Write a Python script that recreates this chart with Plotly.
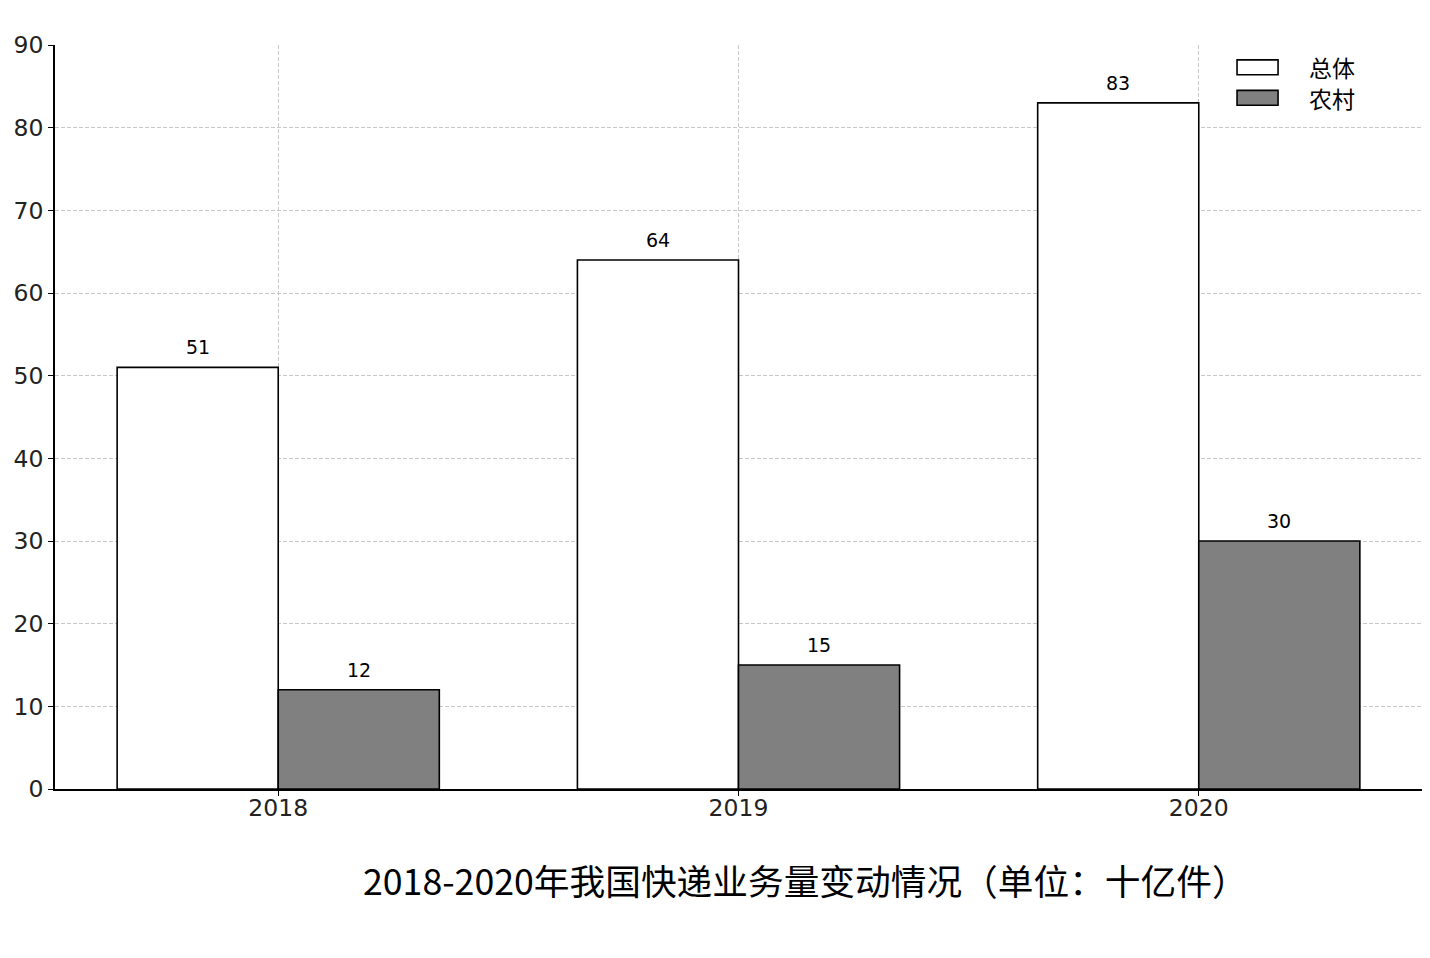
import plotly.graph_objects as go

years = ["2018", "2019", "2020"]
total = [51, 64, 83]
rural = [12, 15, 30]
series_names = ["总体", "农村"]
title_text = "2018-2020年我国快递业务量变动情况（单位：十亿件）"

xpos = list(range(len(years)))
BW = 0.35

fig = go.Figure()
fig.add_trace(go.Bar(x=xpos, y=total, name=series_names[0], marker=dict(color="white", line=dict(color="black", width=1.6)), showlegend=False))
fig.add_trace(go.Bar(x=xpos, y=rural, name=series_names[1], marker=dict(color="#808080", line=dict(color="black", width=1.6)), showlegend=False))

annotations = []
for i, v in enumerate(total):
    annotations.append(dict(x=i - BW / 2, y=v, xref="x", yref="y", text=str(v), showarrow=False,
                            yanchor="bottom", yshift=7, font=dict(size=19, color="black", family="DejaVu Sans")))
for i, v in enumerate(rural):
    annotations.append(dict(x=i + BW / 2, y=v, xref="x", yref="y", text=str(v), showarrow=False,
                            yanchor="bottom", yshift=7, font=dict(size=19, color="black", family="DejaVu Sans")))

# title below
annotations.append(dict(x=0.5490, y=-0.1210, xref="paper", yref="paper", text=title_text, showarrow=False,
                        xanchor="center", yanchor="middle", font=dict(size=35.7, color="black", family="Noto Sans CJK SC")))

# manual legend
legend_rows = [(series_names[0], "white", 0.970), (series_names[1], "#808080", 0.929)]
shapes = []
for name, col, yc in legend_rows:
    shapes.append(dict(type="rect", xref="paper", yref="paper", x0=0.8647, x1=0.8947, y0=yc - 0.010, y1=yc + 0.010,
                       fillcolor=col, line=dict(color="black", width=1.6)))
    annotations.append(dict(x=0.916, y=yc, xref="paper", yref="paper", text=name, showarrow=False,
                            xanchor="left", yanchor="middle", font=dict(size=23, color="black", family="Noto Sans CJK SC")))

fig.update_layout(
    width=1430, height=958,
    margin=dict(l=55, r=8, t=45, b=169),
    paper_bgcolor="white", plot_bgcolor="white",
    barmode="group", bargap=0.3, bargroupgap=0,
    annotations=annotations, shapes=shapes,
    showlegend=False,
    font=dict(family="DejaVu Sans", color="#222"),
)
fig.update_xaxes(
    range=[-0.485, 2.485], tickmode="array", tickvals=xpos, ticktext=years,
    tickfont=dict(size=23.5, color="#222", family="DejaVu Sans"),
    showline=True, linecolor="black", linewidth=1.6, ticks="outside", ticklen=5, tickcolor="black",
    ticklabelstandoff=-8,
    showgrid=True, gridcolor="#c8c8c8", griddash="4px,2px", gridwidth=1, zeroline=False,
)
fig.update_yaxes(
    range=[0, 90], tickmode="array", tickvals=list(range(0, 91, 10)),
    tickfont=dict(size=23.5, color="#222", family="DejaVu Sans"),
    showline=True, linecolor="black", linewidth=1.6, ticks="outside", ticklen=5, tickcolor="black",
    showgrid=True, gridcolor="#c8c8c8", griddash="4px,2px", gridwidth=1, zeroline=False,
)

fig.write_html("out.html")
